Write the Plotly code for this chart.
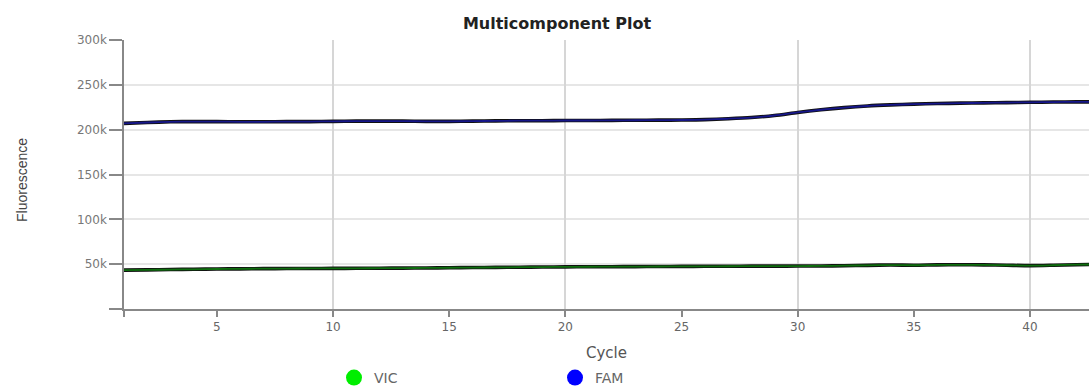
import plotly.graph_objects as go

cycles = list(range(1, 44))
fam = [207.0, 208.0, 208.8, 209.0, 209.0, 208.8, 208.8, 209.0, 209.0, 209.3,
       209.5, 209.5, 209.5, 209.3, 209.3, 209.5, 209.8, 210.0, 210.0, 210.2,
       210.2, 210.4, 210.5, 210.6, 210.8, 211.2, 212.2, 213.5, 215.8, 219.2,
       222.2, 224.6, 226.4, 227.6, 228.5, 229.1, 229.6, 229.9, 230.2, 230.5,
       230.8, 231.0, 231.0]
vic = [43.3, 43.6, 44.0, 44.3, 44.6, 44.8, 45.0, 45.1, 45.2, 45.3,
       45.4, 45.5, 45.6, 45.8, 46.0, 46.2, 46.4, 46.6, 46.8, 47.0,
       47.1, 47.2, 47.3, 47.4, 47.5, 47.6, 47.7, 47.8, 47.8, 47.9,
       48.0, 48.3, 48.7, 49.0, 48.8, 49.2, 49.3, 49.2, 48.8, 48.4,
       48.8, 49.4, 49.8]
fam_vals = [v * 1000 for v in fam]
vic_vals = [v * 1000 for v in vic]

series_names = ["VIC", "FAM"]
legend_colors = ["#00ee00", "#0000ff"]
line_colors = ["#0e6e0e", "#16168a"]

x_tickvals = [1, 5, 10, 15, 20, 25, 30, 35, 40]
x_ticktext = ["", "5", "10", "15", "20", "25", "30", "35", "40"]
y_tickvals = [0, 50000, 100000, 150000, 200000, 250000, 300000]
y_ticktext = ["", "50k", "100k", "150k", "200k", "250k", "300k"]

W, H = 1089, 387
L, R, T, B = 124, 0, 40, 78
x_range = [1, 42.54]

fig = go.Figure()
# invisible trace to anchor the overlay axis for vertical grid lines
fig.add_trace(go.Scatter(x=[None], y=[None], xaxis="x2", showlegend=False, hoverinfo="skip"))
for name, vals, lc in [("VIC", vic_vals, line_colors[0]), ("FAM", fam_vals, line_colors[1])]:
    fig.add_trace(go.Scatter(x=cycles, y=vals, mode="lines", showlegend=False,
                             line=dict(color="#111111", width=3.6, shape="spline", smoothing=0.8),
                             hoverinfo="skip"))
    fig.add_trace(go.Scatter(x=cycles, y=vals, mode="lines", showlegend=False, name=name,
                             line=dict(color=lc, width=1.8, shape="spline", smoothing=0.8)))
for name, c in zip(series_names, legend_colors):
    fig.add_trace(go.Scatter(x=[None], y=[None], mode="markers", name=name,
                             marker=dict(color=c, size=16, symbol="circle")))

fig.update_layout(
    width=W, height=H,
    margin=dict(l=L, r=R, t=T, b=B, autoexpand=False),
    plot_bgcolor="white", paper_bgcolor="white",
    font=dict(family="DejaVu Sans, Arial", color="#666666"),
    title=dict(text="<b>Multicomponent Plot</b>", x=557 / W, xref="container", xanchor="center",
               y=1 - 23 / H, yref="container", yanchor="middle",
               font=dict(size=16, color="#222222", family="DejaVu Sans, Arial")),
    xaxis=dict(range=x_range, tickvals=x_tickvals, ticktext=x_ticktext, showgrid=False,
               ticks="outside", ticklen=6, tickcolor="#888888", tickwidth=1.5,
               showline=True, linecolor="#888888", linewidth=1.5, zeroline=False,
               tickfont=dict(size=12, color="#666666"),
               title=dict(text="Cycle", font=dict(size=15, color="#555555"), standoff=14)),
    xaxis2=dict(range=x_range, overlaying="x", dtick=10, tick0=0, showgrid=True,
                gridcolor="#d6d6d6", gridwidth=1.5, showticklabels=False, zeroline=False),
    yaxis=dict(range=[0, 300000], tickvals=y_tickvals, ticktext=y_ticktext,
               showgrid=True, gridcolor="#e6e6e6", gridwidth=1.5,
               ticks="outside", ticklen=13, tickcolor="#888888", tickwidth=1.5,
               showline=True, linecolor="#888888", linewidth=1.5, zeroline=False,
               tickfont=dict(size=12, color="#777777")),
    legend=dict(orientation="h", x=(334 - L) / (W - L - R), xanchor="left",
                y=-(362 - (H - B)) / (H - T - B), yanchor="top",
                font=dict(size=14, color="#666666"), entrywidth=176, entrywidthmode="pixels",
                itemsizing="trace", bgcolor="rgba(0,0,0,0)"),
    annotations=[dict(text="Fluorescence", textangle=-90, xref="paper", yref="paper",
                      x=(22 - L) / (W - L - R), y=(H - B - 180) / (H - T - B),
                      xanchor="center", yanchor="middle", showarrow=False,
                      font=dict(size=14, color="#444444", family="Liberation Sans Narrow, Arial"))],
)

fig.write_html("out.html", config={"displayModeBar": False},
               post_script="document.body.style.margin='0';document.body.style.overflow='hidden';")
